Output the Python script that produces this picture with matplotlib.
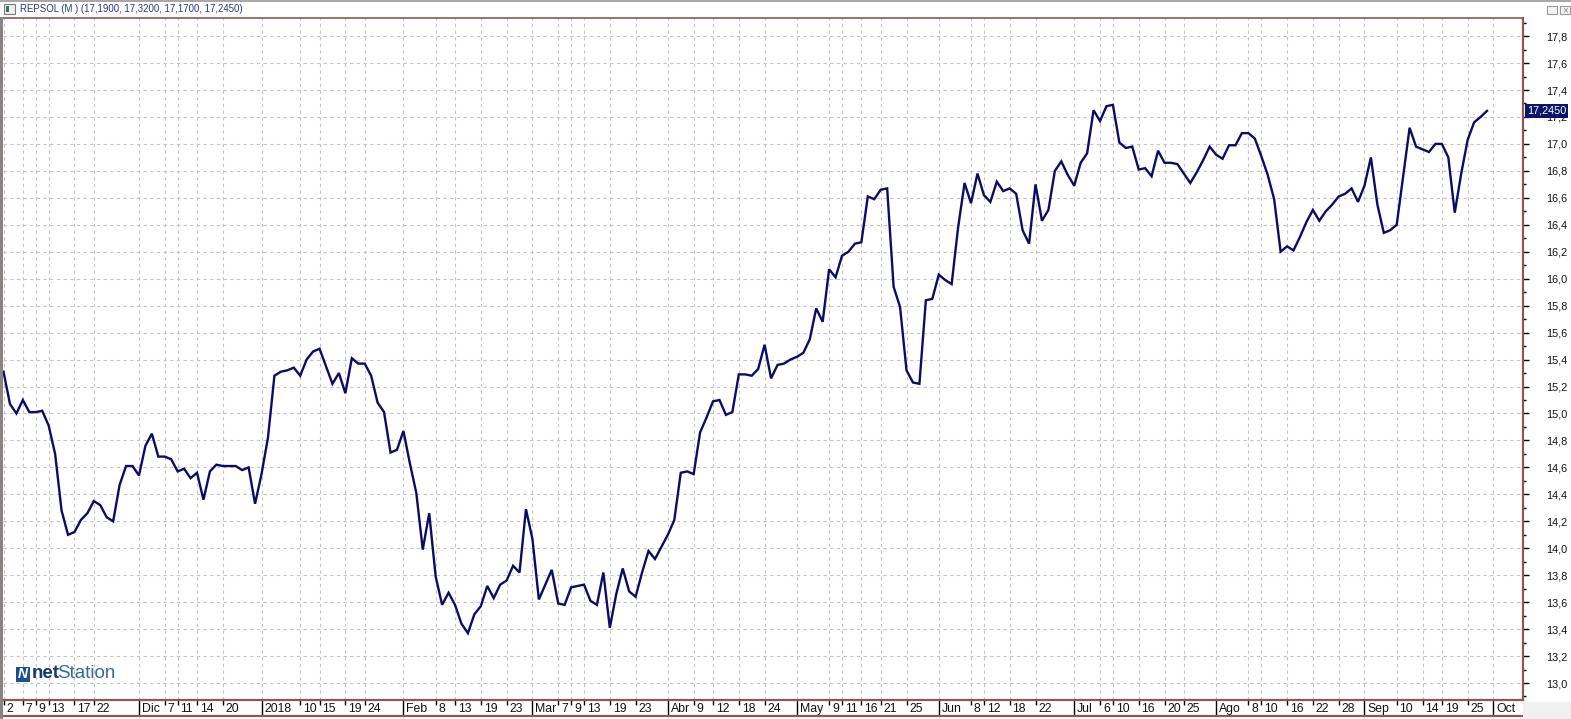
import numpy as np
import pandas as pd
import matplotlib
matplotlib.use('Agg')
import matplotlib.pyplot as plt
from matplotlib.patches import Rectangle
from matplotlib.ticker import FuncFormatter, MultipleLocator
from matplotlib.transforms import blended_transform_factory

plt.rcParams['font.family'] = ['Liberation Sans', 'DejaVu Sans']

# daily closes, one list per month (Nov 2017 - Sep 2018)
nov = [15.31, 15.07, 15.00, 15.10, 15.01, 15.01, 15.02, 14.91, 14.70, 14.28, 14.10,
       14.12, 14.21, 14.26, 14.35, 14.32, 14.23, 14.20, 14.47, 14.61, 14.61]
dic = [14.54, 14.76, 14.85, 14.68, 14.68, 14.66, 14.57, 14.59, 14.52, 14.56, 14.36,
       14.57, 14.62, 14.61, 14.61, 14.61, 14.58, 14.60, 14.33]
ene = [14.55, 14.82, 15.28, 15.31, 15.32, 15.34, 15.28, 15.40, 15.46, 15.48, 15.35,
       15.22, 15.30, 15.15, 15.41, 15.37, 15.37, 15.28, 15.08, 15.01, 14.71, 14.73]
feb = [14.87, 14.63, 14.41, 13.99, 14.26, 13.79, 13.58, 13.67, 13.58, 13.44, 13.37,
       13.51, 13.57, 13.72, 13.63, 13.73, 13.76, 13.87, 13.82, 14.29]
mar = [14.07, 13.62, 13.73, 13.84, 13.59, 13.58, 13.71, 13.72, 13.73, 13.61, 13.58,
       13.82, 13.41, 13.66, 13.85, 13.68, 13.64, 13.82, 13.98, 13.92, 14.01]
abr = [14.10, 14.21, 14.56, 14.57, 14.55, 14.86, 14.97, 15.09, 15.10, 14.99, 15.01,
       15.29, 15.29, 15.28, 15.33, 15.51, 15.26, 15.36, 15.37, 15.40]
may = [15.42, 15.45, 15.55, 15.78, 15.68, 16.07, 16.01, 16.17, 16.20, 16.26, 16.27,
       16.61, 16.59, 16.66, 16.67, 15.94, 15.79, 15.32, 15.23, 15.22, 15.84, 15.85]
jun = [16.03, 15.99, 15.96, 16.38, 16.71, 16.56, 16.78, 16.62, 16.57, 16.72, 16.65,
       16.67, 16.63, 16.36, 16.26, 16.70, 16.43, 16.51, 16.80, 16.87, 16.77]
jul = [16.69, 16.86, 16.93, 17.25, 17.17, 17.28, 17.29, 17.01, 16.97, 16.98, 16.81,
       16.82, 16.76, 16.95, 16.86, 16.86, 16.85, 16.78, 16.71, 16.79, 16.88, 16.98]
ago = [16.92, 16.89, 16.99, 16.99, 17.08, 17.08, 17.04, 16.91, 16.77, 16.59, 16.20,
       16.24, 16.21, 16.31, 16.42, 16.51, 16.43, 16.50, 16.55, 16.61, 16.63, 16.67, 16.57]
sep = [16.69, 16.90, 16.55, 16.34, 16.36, 16.40, 16.76, 17.12, 16.98, 16.96, 16.94,
       17.00, 17.00, 16.90, 16.49, 16.78, 17.03, 17.16, 17.20, 17.245]

close = nov + dic + ene + feb + mar + abr + may + jun + jul + ago + sep

holidays = ['2017-12-25', '2017-12-26', '2018-01-01', '2018-03-30', '2018-04-02', '2018-05-01']
days = pd.bdate_range('2017-11-02', '2018-10-01', freq='C', holidays=holidays)

month_ticks = [('2017-12-01', 'Dic'), ('2018-01-02', '2018'), ('2018-02-01', 'Feb'),
               ('2018-03-01', 'Mar'), ('2018-04-03', 'Abr'), ('2018-05-02', 'May'),
               ('2018-06-01', 'Jun'), ('2018-07-02', 'Jul'), ('2018-08-01', 'Ago'),
               ('2018-09-03', 'Sep'), ('2018-10-01', 'Oct')]
day_ticks = ['2017-11-02', '2017-11-07', '2017-11-09', '2017-11-13', '2017-11-17', '2017-11-22',
             '2017-12-07', '2017-12-11', '2017-12-14', '2017-12-20',
             '2018-01-10', '2018-01-15', '2018-01-19', '2018-01-24',
             '2018-02-08', '2018-02-13', '2018-02-19', '2018-02-23',
             '2018-03-07', '2018-03-09', '2018-03-13', '2018-03-19', '2018-03-23',
             '2018-04-09', '2018-04-12', '2018-04-18', '2018-04-24',
             '2018-05-09', '2018-05-11', '2018-05-16', '2018-05-21', '2018-05-25',
             '2018-06-08', '2018-06-12', '2018-06-18', '2018-06-22',
             '2018-07-06', '2018-07-10', '2018-07-16', '2018-07-20', '2018-07-25',
             '2018-08-08', '2018-08-10', '2018-08-16', '2018-08-22', '2018-08-28',
             '2018-09-10', '2018-09-14', '2018-09-19', '2018-09-25']

W, H = 1571, 719
brown = '#8c5852'
navy = '#0c0c64'


def box(x0, y0, x1, y1):
    return [x0 / W, 1 - y1 / H, (x1 - x0) / W, (y1 - y0) / H]


fig = plt.figure(figsize=(W / 100, H / 100), dpi=100)

ax = fig.add_axes(box(3, 17.5, 1523, 700))
x = np.arange(len(close))
ax.plot(x, close, color=navy, lw=1.7, solid_joinstyle='miter')
ax.set_xlim(-0.08, 235.58)
ax.set_ylim(12.874, 17.938)

m_idx = [days.get_loc(pd.Timestamp(d)) for d, _ in month_ticks]
d_idx = [days.get_loc(pd.Timestamp(d)) for d in day_ticks]
ax.set_xticks(sorted(m_idx + d_idx))
ax.tick_params(axis='x', bottom=False, labelbottom=False)

ax.yaxis.tick_right()
ax.yaxis.set_major_locator(MultipleLocator(0.2))
ax.yaxis.set_minor_locator(MultipleLocator(0.1))
ax.yaxis.set_major_formatter(FuncFormatter(lambda v, p: f'{v:.1f}'.replace('.', ',')))
ax.tick_params(axis='y', which='major', length=4.5, width=1, color='k', pad=12,
               labelsize=7.8, labelcolor='#111111')
ax.tick_params(axis='y', which='minor', length=2.5, width=1, color='k')
ax.grid(True, which='major', color='#c4c4c4', lw=0.8, linestyle=(0, (3, 3)))
for s in ['left', 'bottom']:
    ax.spines[s].set_visible(False)
ax.spines['right'].set_color(brown)
ax.spines['right'].set_linewidth(1.6)
ax.spines['top'].set_color(brown)
ax.spines['top'].set_linewidth(1.2)

# last price tag
tr = blended_transform_factory(ax.transAxes, ax.transData)
ax.text(1.0025, close[-1], '17,2450', transform=tr, ha='left', va='center', fontsize=7.8,
        color='white', clip_on=False,
        bbox=dict(boxstyle='square,pad=0.18', fc='#0b1466', ec='none'))

# date strip
axd = fig.add_axes(box(3, 700, 1523, 716))
axd.set_xlim(ax.get_xlim())
axd.set_ylim(0, 1)
axd.set_xticks([])
axd.set_yticks([])
for s in ['left', 'right']:
    axd.spines[s].set_visible(False)
for s in ['top', 'bottom']:
    axd.spines[s].set_color(brown)
    axd.spines[s].set_linewidth(1.6)
axd.vlines(m_idx, 0, 1, color='k', lw=1)
axd.vlines(d_idx, 0.68, 1, color='k', lw=1)
for i, (_, lab) in zip(m_idx, month_ticks):
    axd.text(i + 0.45, 0.42, lab, ha='left', va='center', fontsize=8.8, color='#111111')
for i, d in zip(d_idx, day_ticks):
    axd.text(i + 0.45, 0.42, str(pd.Timestamp(d).day), ha='left', va='center',
             fontsize=8.8, color='#111111')

# window frame bits
fig.patches.append(Rectangle((0, 0), 3 / W, 1 - 17 / H, transform=fig.transFigure,
                             fc='#8a8480', ec='none'))
fig.patches.append(Rectangle((0, 1 - 2 / H), 1, 2 / H, transform=fig.transFigure,
                             fc='#a8a8a8', ec='none'))
fig.patches.append(Rectangle((1523 / W, 0), 48 / W, 17 / H, transform=fig.transFigure,
                             fc='#f0f0f0', ec='none'))
fig.patches.append(Rectangle((4 / W, 1 - 14 / H), 11 / W, 10 / H, transform=fig.transFigure,
                             fc='#eeeeee', ec='#7a7a7a', lw=0.8))
fig.patches.append(Rectangle((6 / W, 1 - 12 / H), 3 / W, 6 / H, transform=fig.transFigure,
                             fc='#3f6f5a', ec='none'))
fig.patches.append(Rectangle((1547 / W, 1 - 14 / H), 10 / W, 8 / H, transform=fig.transFigure,
                             fc='#f4f4f4', ec='#9a9a9a', lw=0.8))
fig.patches.append(Rectangle((1560 / W, 1 - 14 / H), 10 / W, 8 / H, transform=fig.transFigure,
                             fc='#f4f4f4', ec='#9a9a9a', lw=0.8))
fig.text(1565 / W, 1 - 10 / H, '×', fontsize=7, color='#888888', ha='center', va='center')
fig.text(20 / W, 1 - 9.5 / H, 'REPSOL (M ) (17,1900, 17,3200, 17,1700, 17,2450)',
         fontsize=6.9, color='#243a80', va='center', ha='left')

# netStation logo
fig.patches.append(Rectangle((16 / W, 1 - 682 / H), 14 / W, 15 / H, transform=fig.transFigure,
                             fc='#1f4f8c', ec='none'))
fig.text(23 / W, 1 - 674.5 / H, 'N', fontsize=10, fontweight='bold', style='italic',
         color='white', ha='center', va='center')
fig.text(32 / W, 1 - 674 / H, 'net', fontsize=13.5, fontweight='bold', color='#17386b',
         ha='left', va='center')
fig.text(57 / W, 1 - 674 / H, 'Station', fontsize=13.5, color='#3a6797',
         ha='left', va='center')

fig.savefig('out.png', dpi=100)
